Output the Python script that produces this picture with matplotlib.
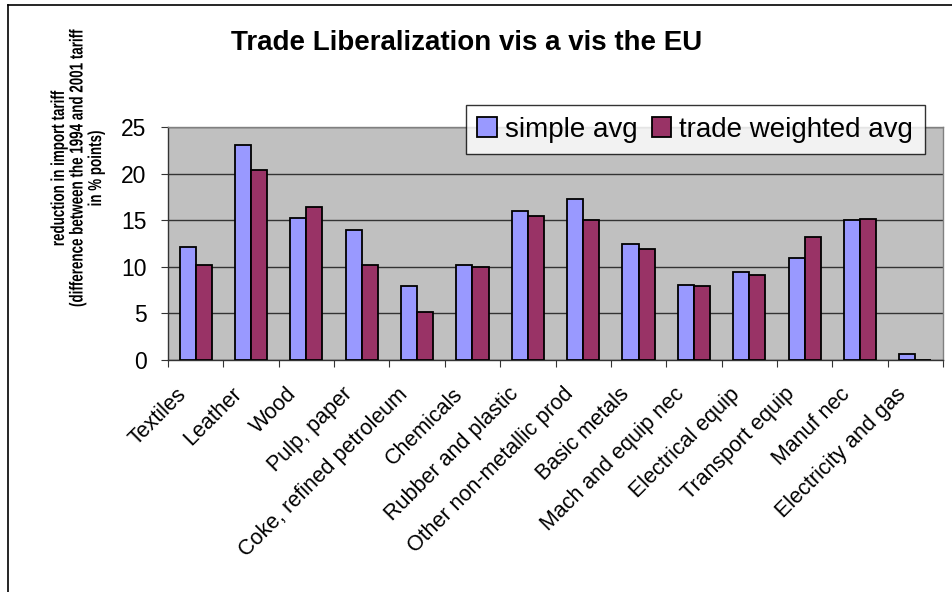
import numpy as np
import matplotlib
matplotlib.use("Agg")
import matplotlib.pyplot as plt
from matplotlib.lines import Line2D
from matplotlib.transforms import ScaledTranslation, Affine2D
from matplotlib.patheffects import AbstractPathEffect

plt.rcParams['font.family'] = ['Liberation Sans', 'DejaVu Sans']

sectors = ["Textiles", "Leather", "Wood", "Pulp, paper", "Coke, refined petroleum",
           "Chemicals", "Rubber and plastic", "Other non-metallic prod", "Basic metals",
           "Mach and equip nec", "Electrical equip", "Transport equip", "Manuf nec",
           "Electricity and gas"]
simple_avg = [12.1, 23.1, 15.2, 13.9, 7.9, 10.2, 16.0, 17.3, 12.4, 8.1, 9.4, 10.9, 15.0, 0.6]
trade_weighted = [10.2, 20.4, 16.4, 10.2, 5.1, 10.0, 15.4, 15.0, 11.9, 7.9, 9.1, 13.2, 15.1, 0.0]


class Squeeze(AbstractPathEffect):
    """Draw text narrowed along screen y around its anchor (Arial Narrow look)."""

    def __init__(self, text, sy):
        super().__init__()
        self.text = text
        self.sy = sy

    def draw_path(self, renderer, gc, tpath, affine, rgbFace=None):
        cx, cy = self.text.get_transform().transform(self.text.get_position())
        extra = Affine2D().translate(-cx, -cy).scale(1, self.sy).translate(cx, cy)
        renderer.draw_path(gc, tpath, affine + extra, rgbFace)


fig = plt.figure(figsize=(9.53, 5.92), dpi=100)
ax = fig.add_axes([168 / 953, 1 - 360 / 592, (943 - 168) / 953, (360 - 127) / 592])

x = np.arange(len(sectors))
w = 0.29
ax.bar(x - w / 2, simple_avg, w, color="#9999FF", edgecolor="black", linewidth=1.3,
       label="simple avg", zorder=3)
ax.bar(x + w / 2, trade_weighted, w, color="#993366", edgecolor="black", linewidth=1.3,
       label="trade weighted avg", zorder=3)

ax.set_facecolor("#C0C0C0")
ax.set_xlim(-0.5, len(sectors) - 0.5)
ax.set_ylim(0, 25)
ax.set_yticks([0, 5, 10, 15, 20, 25])
ax.yaxis.grid(True, color="#333333", linewidth=1.0, zorder=1)
ax.set_axisbelow(True)

for side in ["top", "right"]:
    ax.spines[side].set_color("#808080")
    ax.spines[side].set_linewidth(1.0)
for side in ["left", "bottom"]:
    ax.spines[side].set_color("#333333")
    ax.spines[side].set_linewidth(1.0)

# category labels, ticks between categories
ax.set_xticks(np.arange(len(sectors) + 1) - 0.5)
ax.set_xticklabels([])
ax.set_xticks(x, minor=True)
ax.set_xticklabels(sectors, minor=True, rotation=45, ha="right", rotation_mode="anchor",
                   fontsize=15.5)
ax.tick_params(axis="x", which="minor", length=0, pad=12)
ax.tick_params(axis="x", which="major", direction="out", length=5, color="#333333")
ax.tick_params(axis="y", direction="out", length=5, labelsize=16.5, pad=10.5, color="#333333")
shift = ScaledTranslation(-20 / 100, -7 / 100, fig.dpi_scale_trans)
for lab in ax.get_xticklabels(minor=True):
    lab.set_transform(lab.get_transform() + shift)

fig.text(467 / 953, 1 - 43 / 592, "Trade Liberalization vis a vis the EU",
         fontsize=20, fontweight="bold", ha="center", va="center")

# anchored at its top end (~30 px from the top), squeezed towards it
ylab = fig.text(78 / 953, 1 - 30 / 592,
                "reduction in import tariff\n(difference between the 1994 and 2001 tariff\nin % points)",
                fontsize=13.5, fontweight="bold", rotation=90, ha="center", va="top",
                multialignment="center", linespacing=1.12)
# longest line is ~277 px long in the reference, glyphs are tall and narrow
r = fig.canvas.get_renderer()
ext = ylab.get_window_extent(r).height
ylab.set_path_effects([Squeeze(ylab, 277 / ext)])

leg = fig.legend(loc="upper right", bbox_to_anchor=(925 / 953, 1 - 105 / 592), ncol=2,
                 fontsize=20, frameon=True, fancybox=False, edgecolor="black",
                 handlelength=0.7, handleheight=0.7, handletextpad=0.3,
                 columnspacing=0.5, borderpad=0.42, borderaxespad=0)
leg.get_frame().set_linewidth(1.0)

# figure border (left and top visible)
fig.add_artist(Line2D([8 / 953, 8 / 953], [0, 1 - 4.5 / 592], transform=fig.transFigure,
                      color="black", linewidth=1.2))
fig.add_artist(Line2D([8 / 953, 1], [1 - 4.5 / 592, 1 - 4.5 / 592], transform=fig.transFigure,
                      color="black", linewidth=1.2))

fig.savefig("out.png", dpi=100)
